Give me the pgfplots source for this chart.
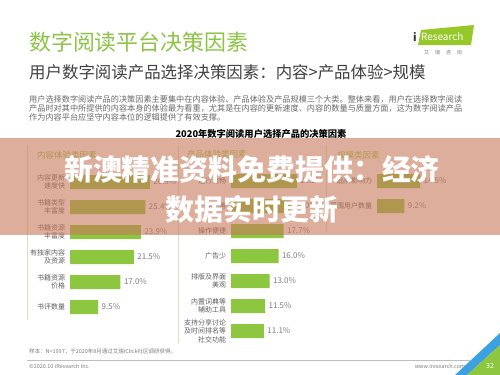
\documentclass[border=0pt]{standalone}
\usepackage{pgfplots}
\pgfplotsset{compat=1.18}
\usepackage{fontspec}
\setmainfont{Noto Sans CJK SC}
\definecolor{barg}{RGB}{141,198,63}
\definecolor{titleg}{RGB}{140,196,72}
\definecolor{darkt}{RGB}{64,64,64}
\definecolor{parat}{RGB}{105,105,105}
\definecolor{labt}{RGB}{95,95,95}
\definecolor{valt}{RGB}{125,125,125}
\definecolor{sepl}{RGB}{212,226,192}
\definecolor{band}{RGB}{200,120,90}
\definecolor{cornerb}{RGB}{60,160,225}
\definecolor{logog}{RGB}{150,200,40}
\pgfplotsset{panel/.style={
  xbar, y dir=reverse, x=2.97bp, y=25bp, xmin=0, ymin=-0.5,
  anchor=north west, bar width=14bp, clip=false,
  axis line style={draw=none}, tick style={draw=none}, major tick length=0pt,
  xtick=\empty,
  yticklabel style={align=right, font=\fontsize{7}{8.5}\selectfont, text=labt, xshift=-1.5bp},
  point meta=x,
  nodes near coords={\pgfmathprintnumber[fixed,fixed zerofill,precision=1]{\pgfplotspointmeta}\%},
  nodes near coords align={horizontal},
  every node near coord/.append style={font=\fontsize{8}{9}\selectfont, text=valt, /pgf/number format/assume math mode=true},
}}
\begin{document}
\begin{tikzpicture}
\useasboundingbox (0,0) rectangle (500bp,-375bp);
\fill[white] (0,0) rectangle (500bp,-375bp);
% header
\node[anchor=west, inner sep=0, text=titleg, font=\fontsize{22}{24}\selectfont] at (29bp,-42bp) {数字阅读平台决策因素};
\node[anchor=west, inner sep=0, text=darkt, font=\fontsize{16.5}{18}\selectfont] at (29bp,-72bp) {用户数字阅读产品选择决策因素：内容>产品体验>规模};
\node[anchor=west, inner sep=0, text=parat, font=\fontsize{8.2}{9}\selectfont] at (29bp,-99bp) {用户选择数字阅读产品的决策因素主要集中在内容体验、产品体验及产品规模三个大类。整体来看，用户在选择数字阅读};
\node[anchor=west, inner sep=0, text=parat, font=\fontsize{8.2}{9}\selectfont] at (29bp,-108bp) {产品时对其中所提供的内容本身的体验最为看重，尤其是在内容的更新速度、内容的数量与质量方面，这为数字阅读产品};
\node[anchor=west, inner sep=0, text=parat, font=\fontsize{8.2}{9}\selectfont] at (29bp,-117bp) {作为内容平台应坚守内容本位的逻辑提供了有效支撑。};
% logo
\fill[logog] (421bp,-30bp) -- (474bp,-25bp) -- (471bp,-45bp) -- (418bp,-45bp) -- cycle;
\node[anchor=west, inner sep=0, text=black!80, font=\fontsize{11}{12}\bfseries\selectfont] at (413bp,-37bp) {i};
\node[anchor=west, inner sep=0, text=white, font=\fontsize{10}{12}\selectfont] at (421bp,-37bp) {Research};
\node[anchor=center, inner sep=0, text=valt, font=\fontsize{5}{6}\selectfont] at (443bp,-53bp) {艾\hspace{6bp}瑞\hspace{6bp}咨\hspace{6bp}询};
% chart title
\node[anchor=center, inner sep=0, text=black, font=\fontsize{9.3}{11}\bfseries\selectfont] at (261bp,-134bp) {2020年数字阅读用户选择产品的决策因素};
% panel titles
\node[anchor=west, inner sep=0, text=barg, font=\fontsize{8.5}{10}\selectfont] at (37bp,-155bp) {内容体验类因素};
\node[anchor=west, inner sep=0, text=barg, font=\fontsize{8.5}{10}\selectfont] at (187bp,-154bp) {产品体验类因素};
\node[anchor=west, inner sep=0, text=barg, font=\fontsize{8.5}{10}\selectfont] at (337bp,-155bp) {规模类因素};
% separators
\draw[sepl, line width=0.8bp] (27bp,-145bp) -- (27bp,-320bp);
\draw[sepl, line width=0.8bp] (178bp,-145bp) -- (178bp,-343bp);
\draw[sepl, line width=0.8bp] (326bp,-145bp) -- (326bp,-232bp);
% left panel
\begin{axis}[panel, at={(70bp,-169.5bp)}, xmax=30, ymax=5.5,
  ytick={0,1,2,3,4,5},
  yticklabels={{内容更新\\速度快},{书籍类型\\丰富度},{书籍资源\\丰富度},{有独家内容\\及资源},{书籍资源\\价格},{书评数量}}]
\addplot[fill=barg, draw=none] coordinates {(26.9,0) (25.4,1) (23.9,2) (21.5,3) (17.0,4) (9.5,5)};
\end{axis}
% middle panel
\begin{axis}[panel, at={(231bp,-168.5bp)}, xmax=30, ymax=6.5,
  ytick={0,1,2,3,4,5,6},
  yticklabels={{运行流畅},{功能完善},{操作便捷},{广告少},{排版及界面\\美观},{内置词典等\\辅助工具},{支持分享讨论\\及时间排名等\\社交功能}}]
\addplot[fill=barg, draw=none] coordinates {(22.2,0) (20.0,1) (17.7,2) (16.0,3) (13.0,4) (11.5,5) (11.1,6)};
\end{axis}
% right panel
\begin{axis}[panel, at={(377bp,-168.5bp)}, xmax=20, ymax=1.5,
  ytick={0,1},
  yticklabels={{品牌影响力},{周围用户数量}}]
\addplot[fill=barg, draw=none] coordinates {(14.5,0) (9.2,1)};
\end{axis}
% footer
\node[anchor=west, inner sep=0, text=valt, font=\fontsize{5.5}{6}\selectfont] at (29bp,-352bp) {样本：N=1997；于2020年8月通过艾瑞iClick社区调研获得。};
\draw[black!25, line width=0.5bp] (27bp,-360bp) -- (470bp,-360bp);
\node[anchor=west, inner sep=0, text=valt, font=\fontsize{5.5}{6}\selectfont] at (29bp,-366bp) {©2020.10 iResearch Inc.};
\node[anchor=east, inner sep=0, text=valt, font=\fontsize{5.5}{6}\selectfont] at (473bp,-366bp) {www.iresearch.com.cn};
\fill[cornerb] (500bp,-333bp) -- (500bp,-345bp) -- (467bp,-375bp) -- (455bp,-375bp) -- cycle;
\fill[barg] (500bp,-345bp) -- (500bp,-375bp) -- (467bp,-375bp) -- cycle;
\node[anchor=center, inner sep=0, text=white, font=\fontsize{7}{8}\selectfont] at (490bp,-366bp) {32};
% overlay band
\fill[band, opacity=0.6] (0,-138bp) rectangle (500bp,-235bp);
\node[anchor=center, inner sep=0, text=white, font=\fontsize{29}{32}\bfseries\selectfont] at (252bp,-169bp) {新澳精准资料免费提供：经济};
\node[anchor=center, inner sep=0, text=white, font=\fontsize{29}{32}\bfseries\selectfont] at (252bp,-209bp) {数据实时更新};
\end{tikzpicture}
\end{document}
